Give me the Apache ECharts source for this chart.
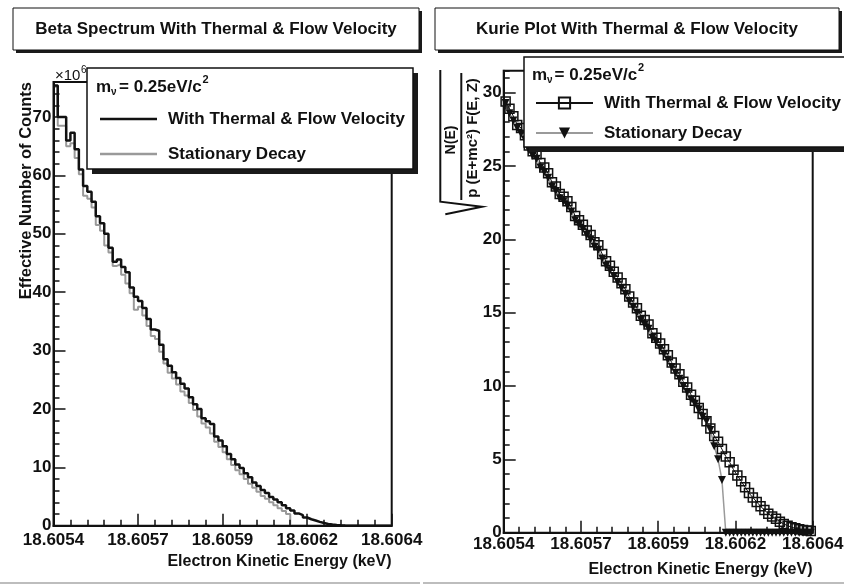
<!DOCTYPE html>
<html><head><meta charset="utf-8">
<script src="https://cdn.jsdelivr.net/npm/echarts@6/dist/echarts.min.js"></script>
<style>html,body{margin:0;padding:0;background:#fff}#c{width:844px;height:587px}</style>
</head><body><div id="c"></div>
<script>
// ---------------- data ----------------
const energyStartKeV = 18.6054;      // low edge of first bin
const energyBinWidthKeV = 0.0000125; // bin width
const xTickLabels = ['18.6054', '18.6057', '18.6059', '18.6062', '18.6064'];
const leftYTickLabels = ['0', '10', '20', '30', '40', '50', '60', '70'];
const rightYTickLabels = ['0', '5', '10', '15', '20', '25', '30'];
const seriesLabels = ['With Thermal & Flow Velocity', 'Stationary Decay'];
const massLabel = ['m', '\u03bd', '= 0.25eV/c', '2'];

// Effective number of counts (x10^6)
const thermalCounts = [
  75.4, 70.0, 70.0, 66.0, 67.3, 64.5, 61.0, 58.2, 57.2, 55.5,
  53.0, 51.8, 50.0, 47.6, 45.2, 45.6, 44.3, 43.4, 40.8, 39.2,
  38.5, 37.3, 35.4, 33.6, 33.4, 31.0, 28.5, 27.4, 26.3, 25.3,
  24.3, 23.5, 22.0, 20.8, 20.0, 18.4, 17.9, 17.4, 15.3, 14.6,
  13.6, 12.3, 11.4, 10.5, 9.9, 9.0, 8.3, 7.4, 6.8, 6.1,
  5.6, 4.9, 4.5, 4.0, 3.5, 3.0, 2.6, 2.1, 1.8, 1.4,
  1.1, 0.9, 0.65, 0.45, 0.3, 0.2, 0.12, 0.07, 0.03, 0.01,
  0, 0, 0, 0, 0, 0, 0, 0, 0, 0
];
const stationaryCounts = [
  75.2, 68.5, 68.5, 65.0, 65.5, 63.0, 60.2, 56.5, 56.0, 54.5,
  51.5, 50.5, 48.0, 46.8, 44.5, 44.8, 43.0, 41.5, 39.8, 37.0,
  37.5, 36.0, 34.2, 32.5, 32.0, 29.8, 27.8, 26.2, 25.2, 24.2,
  23.0, 22.3, 21.0, 19.8, 18.7, 17.5, 16.8, 15.8, 14.4, 13.5,
  12.6, 11.4, 10.4, 9.5, 8.8, 8.0, 7.2, 6.5, 5.8, 5.1,
  4.6, 4.0, 3.5, 3.0, 2.5, 2.0, 0, 0, 0, 0,
  0, 0, 0, 0, 0, 0, 0, 0, 0, 0,
  0, 0, 0, 0, 0, 0, 0, 0, 0, 0
];
// Kurie plot values
const thermalKurie = [
  29.4, 28.9, 28.4, 27.8, 27.6, 27.1, 26.4, 26.0, 25.8, 25.2,
  24.9, 24.5, 23.9, 23.6, 23.1, 22.9, 22.6, 22.2, 21.6, 21.3,
  21.0, 20.6, 20.3, 19.8, 19.6, 19.0, 18.5, 18.2, 17.8, 17.4,
  17.0, 16.6, 16.1, 15.7, 15.3, 14.8, 14.5, 14.2, 13.6, 13.3,
  12.9, 12.5, 12.1, 11.6, 11.2, 10.8, 10.3, 9.9, 9.4, 9.0,
  8.5, 8.1, 7.6, 7.1, 6.6, 6.2, 5.7, 5.2, 4.8, 4.3,
  3.9, 3.5, 3.1, 2.7, 2.4, 2.1, 1.8, 1.55, 1.3, 1.1,
  0.95, 0.75, 0.6, 0.48, 0.38, 0.3, 0.24, 0.19, 0.15, 0.12
];
const stationaryKurie = [
  29.3, 28.6, 28.1, 27.6, 27.2, 26.8, 26.1, 25.7, 25.5, 24.9,
  24.6, 24.2, 23.6, 23.3, 22.8, 22.6, 22.3, 21.9, 21.3, 21.0,
  20.7, 20.3, 20.0, 19.5, 19.3, 18.7, 18.2, 17.9, 17.5, 17.1,
  16.7, 16.3, 15.8, 15.4, 15.0, 14.5, 14.2, 13.9, 13.3, 13.0,
  12.6, 12.2, 11.8, 11.3, 10.9, 10.5, 10.0, 9.6, 9.1, 8.8,
  8.4, 7.9, 7.6, 7.0, 5.9, 5.0, 3.6, 0, 0, 0,
  0, 0, 0, 0, 0, 0, 0, 0, 0, 0,
  0, 0, 0, 0, 0, 0, 0, 0, 0, 0
];

// ---------------- helpers ----------------
const F = '"Liberation Sans", Arial, Helvetica, sans-serif';
const INK = '#111';
const GRAY = '#9a9a9a';
const X_MIN = 18.6054, X_MAX = 18.6064, X_INT = 0.00025;

function histData(vals) {
  const d = vals.map((v, i) => [energyStartKeV + i * energyBinWidthKeV, v]);
  d.push([energyStartKeV + vals.length * energyBinWidthKeV, vals[vals.length - 1]]);
  return d;
}
function centerData(vals) {
  return vals.map((v, i) => [energyStartKeV + (i + 0.5) * energyBinWidthKeV, v]);
}
function xLabel(v) {
  const k = Math.round((v - X_MIN) / X_INT);
  return Math.abs(v - (X_MIN + k * X_INT)) < X_INT * 0.01 ? (xTickLabels[k] || '') : '';
}
function yLabelFrom(labels, step) {
  return function (v) {
    const k = Math.round(v / step);
    return Math.abs(v - k * step) < 1e-6 ? (labels[k] || '') : '';
  };
}

const labelFont = { fontFamily: F, fontWeight: 'bold', fontSize: 17, color: INK };

function xAxisCfg(g, margin) {
  return {
    type: 'value', gridIndex: g, min: X_MIN, max: X_MAX, interval: X_INT, position: 'bottom', z: 3,
    axisLine: { show: true, onZero: false, lineStyle: { color: INK, width: 2 } },
    axisTick: { show: true, inside: true, length: 12, lineStyle: { color: INK, width: 1.5 } },
    minorTick: { show: true, splitNumber: 5, length: 6, lineStyle: { color: INK, width: 1.5 } },
    splitLine: { show: false }, minorSplitLine: { show: false },
    axisLabel: Object.assign({ formatter: xLabel, margin: margin, hideOverlap: false, showMinLabel: true, showMaxLabel: true }, labelFont)
  };
}
function yMajor(g, max, step, labels) {
  return {
    type: 'value', gridIndex: g, min: 0, max: max, interval: step, position: 'left', z: 3,
    axisLine: { show: true, onZero: false, lineStyle: { color: INK, width: 2 } },
    axisTick: { show: true, inside: true, length: 12, lineStyle: { color: INK, width: 1.5 } },
    splitLine: { show: false },
    axisLabel: Object.assign({ formatter: yLabelFrom(labels, step), margin: 2, showMaxLabel: false, hideOverlap: false }, labelFont)
  };
}
function yMinor(g, max, step) {
  return {
    type: 'value', gridIndex: g, min: 0, max: max, interval: step, position: 'left', z: 3,
    axisLine: { show: false }, splitLine: { show: false }, axisLabel: { show: false },
    axisTick: { show: true, inside: true, length: 6, lineStyle: { color: INK, width: 1.5 } }
  };
}

const nameMap = {
  hThermal: seriesLabels[0], hStationary: seriesLabels[1],
  kThermal: seriesLabels[0], kStationary: seriesLabels[1]
};

function txt(x, y, text, size, opts) {
  return Object.assign({
    type: 'text', x: x, y: y, z: 6,
    style: Object.assign({ text: text, fontFamily: F, fontWeight: 'bold', fontSize: size, fill: INK,
      align: 'left', verticalAlign: 'middle' }, (opts && opts.style) || {})
  }, opts && opts.el || {});
}
function boxWithShadow(x, y, w, h, off, lw) {
  return [
    { type: 'rect', z: 3, shape: { x: x + off, y: y + off, width: w, height: h }, style: { fill: '#1a1a1a' } },
    { type: 'rect', z: 3, shape: { x: x, y: y, width: w, height: h }, style: { fill: '#fff', stroke: INK, lineWidth: lw } }
  ];
}

const graphics = [].concat(
  // pad borders
  [{ type: 'line', z: 1, shape: { x1: 0, y1: 583, x2: 420, y2: 583 }, style: { stroke: '#bdbdbd', lineWidth: 2 } },
   { type: 'line', z: 1, shape: { x1: 423, y1: 583, x2: 844, y2: 583 }, style: { stroke: '#bdbdbd', lineWidth: 2 } }],
  // titles
  boxWithShadow(13, 8, 406, 42, 3, 1),
  [txt(216, 29.5, 'Beta Spectrum With Thermal & Flow Velocity', 17, { style: { align: 'center' } })],
  boxWithShadow(435, 8, 404, 42, 3, 1),
  [txt(637, 29.5, 'Kurie Plot With Thermal & Flow Velocity', 17, { style: { align: 'center' } })],
  // legends
  boxWithShadow(87, 68, 326, 101, 5, 1.5),
  [txt(96, 87, massLabel[0], 17), txt(111, 92, massLabel[1], 10),
   txt(119, 87, massLabel[2], 17), txt(202.5, 80, massLabel[3], 11)],
  boxWithShadow(524, 57, 330, 90, 5, 1.5),
  [txt(532, 75, massLabel[0], 17), txt(547, 80, massLabel[1], 10),
   txt(554.5, 75, massLabel[2], 17), txt(638, 68, massLabel[3], 11)],
  // axis titles
  [txt(391.5, 562, 'Electron Kinetic Energy (keV)', 16, { style: { align: 'right' } }),
   txt(812.5, 570, 'Electron Kinetic Energy (keV)', 16, { style: { align: 'right' } }),
   txt(26, 82, 'Effective Number of Counts', 16.5, { style: { align: 'right' }, el: { rotation: Math.PI / 2 } }),
   txt(55, 76, '\u00d710', 15, { style: { fontWeight: 'normal' } }),
   txt(81, 70, '6', 10, { style: { fontWeight: 'normal' } })],
  // Kurie y title: sqrt( N(E) / (p (E+mc^2) F(E, Z)) )
  [{ type: 'polyline', z: 6, shape: { points: [[440.3, 70], [440.3, 201.7], [482, 206.7], [445.3, 214.3]] },
     style: { stroke: INK, lineWidth: 2, fill: null } },
   { type: 'line', z: 6, shape: { x1: 461.3, y1: 73, x2: 461.3, y2: 200 }, style: { stroke: INK, lineWidth: 2 } },
   txt(451.5, 140, 'N(E)', 14, { style: { align: 'center' }, el: { rotation: Math.PI / 2 } }),
   txt(472.5, 138, 'p (E+mc\u00b2) F(E, Z)', 15, { style: { align: 'center' }, el: { rotation: Math.PI / 2 } })]
);

const legendText = { fontFamily: F, fontWeight: 'bold', fontSize: 17, lineHeight: 20, color: INK, padding: [0, 0, 0, 6] };

const option = {
  backgroundColor: '#fff',
  animation: false,
  grid: [
    { left: 53.5, top: 82, width: 338.2, height: 443.7, show: true, borderColor: INK, borderWidth: 2, backgroundColor: 'rgba(0,0,0,0)', containLabel: false, outerBoundsMode: 'none' },
    { left: 503.7, top: 70.7, width: 309, height: 462, show: true, borderColor: INK, borderWidth: 2, backgroundColor: 'rgba(0,0,0,0)', containLabel: false, outerBoundsMode: 'none' }
  ],
  xAxis: [xAxisCfg(0, 6), xAxisCfg(1, 3.5)],
  yAxis: [yMajor(0, 76, 10, leftYTickLabels), yMinor(0, 76, 2), yMajor(1, 31.5, 5, rightYTickLabels), yMinor(1, 31.5, 1)],
  legend: [
    { left: 100, top: 109, padding: 0, orient: 'vertical', itemWidth: 57, itemHeight: 2.5, itemGap: 15, selectedMode: false, z: 5,
      data: [{ name: 'hThermal', icon: 'rect' }, { name: 'hStationary', icon: 'rect' }],
      formatter: n => nameMap[n], textStyle: legendText },
    { left: 535, top: 93, padding: 0, orient: 'vertical', itemWidth: 57, itemHeight: 14, itemGap: 10, selectedMode: false, z: 5,
      data: ['kThermal', 'kStationary'], formatter: n => nameMap[n], textStyle: legendText }
  ],
  graphic: graphics,
  series: [
    { name: 'hStationary', type: 'line', xAxisIndex: 0, yAxisIndex: 0, step: 'end', symbol: 'none', z: 2,
      lineStyle: { color: GRAY, width: 2 }, itemStyle: { color: GRAY }, data: histData(stationaryCounts) },
    { name: 'hThermal', type: 'line', xAxisIndex: 0, yAxisIndex: 0, step: 'end', symbol: 'none', z: 2,
      lineStyle: { color: INK, width: 2.5 }, itemStyle: { color: INK }, data: histData(thermalCounts) },
    { name: 'kThermal', type: 'line', xAxisIndex: 1, yAxisIndex: 2, symbol: 'rect', symbolSize: 9, showSymbol: true, showAllSymbol: true, z: 2,
      lineStyle: { color: INK, width: 1 }, itemStyle: { color: 'rgba(0,0,0,0)', borderColor: INK, borderWidth: 1.5 },
      emphasis: { disabled: true }, data: centerData(thermalKurie) },
    { name: 'kStationary', type: 'line', xAxisIndex: 1, yAxisIndex: 2, symbol: 'triangle', symbolRotate: 180, symbolSize: 8, showSymbol: true, showAllSymbol: true, z: 2,
      lineStyle: { color: GRAY, width: 1.5 }, itemStyle: { color: INK },
      emphasis: { disabled: true }, data: centerData(stationaryKurie) }
  ]
};

const chart = echarts.init(document.getElementById('c'), null, { renderer: 'canvas' });
chart.setOption(option);
</script>
</body></html>
